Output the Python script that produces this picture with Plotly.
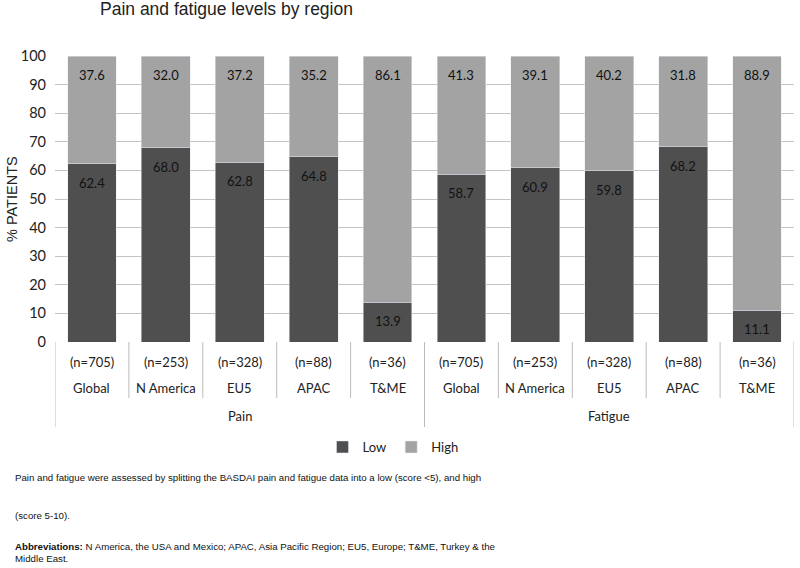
import plotly.graph_objects as go

groups = ["Pain"] * 5 + ["Fatigue"] * 5
regions = ["Global", "N America", "EU5", "APAC", "T&ME"] * 2
n_labels = ["(n=705)", "(n=253)", "(n=328)", "(n=88)", "(n=36)"] * 2
low_vals = [62.4, 68.0, 62.8, 64.8, 13.9, 58.7, 60.9, 59.8, 68.2, 11.1]
high_vals = [37.6, 32.0, 37.2, 35.2, 86.1, 41.3, 39.1, 40.2, 31.8, 88.9]
y_ticks = [0, 10, 20, 30, 40, 50, 60, 70, 80, 90, 100]

W, H = 800, 568
L, R, T, B = 55, 6, 56, 226
PW, PH = W - L - R, H - T - B

def px_x(px):
    return (px - L) / PW

def px_y(py):
    return (H - B - py) / PH

idx = list(range(len(regions)))
LOW_C = "#4f4f4f"
HIGH_C = "#a3a3a3"
LBL_FONT = dict(family="Lato, Open Sans, sans-serif", size=13, color="#111111")

fig = go.Figure()
fig.add_trace(go.Bar(x=idx, y=low_vals, name="Low", marker_color=LOW_C, hoverinfo="y+name"))
fig.add_trace(go.Bar(x=idx, y=high_vals, name="High", marker_color=HIGH_C, hoverinfo="y+name"))

annotations = []
shapes = []

# data labels (inside end of each segment)
for i in idx:
    annotations.append(dict(x=i, y=low_vals[i], xref="x", yref="y", text=f"{low_vals[i]:.1f}",
                            showarrow=False, font=LBL_FONT, yanchor="top", yshift=-9))
    annotations.append(dict(x=i, y=low_vals[i] + high_vals[i], xref="x", yref="y",
                            text=f"{high_vals[i]:.1f}", showarrow=False, font=LBL_FONT,
                            yanchor="top", yshift=-9))

TICK_FONT = dict(family="Lato, Open Sans, sans-serif", size=13, color="#222222")
for i in idx:
    annotations.append(dict(x=i, y=px_y(362), xref="x", yref="paper", text=n_labels[i],
                            showarrow=False, font=TICK_FONT, yanchor="middle"))
    annotations.append(dict(x=i, y=px_y(388), xref="x", yref="paper", text=regions[i],
                            showarrow=False, font=TICK_FONT, yanchor="middle"))

# group labels
unique_groups = []
for g in groups:
    if g not in unique_groups:
        unique_groups.append(g)
for g in unique_groups:
    members = [i for i in idx if groups[i] == g]
    annotations.append(dict(x=(members[0] + members[-1]) / 2, y=px_y(416), xref="x", yref="paper",
                            text=g, showarrow=False, font=TICK_FONT, yanchor="middle"))

# dividers
for i in range(len(idx) + 1):
    is_outer = i == 0 or i == len(idx) or groups[i - 1] != groups[i]
    shapes.append(dict(type="line", xref="x", yref="paper", x0=i - 0.5, x1=i - 0.5,
                       y0=0, y1=px_y(427 if is_outer else 398),
                       line=dict(color="#bcbcbc", width=1)))

# y axis title
annotations.append(dict(x=px_x(12), y=0.5, xref="paper", yref="paper", text="% PATIENTS",
                        textangle=-90, showarrow=False, xanchor="center", yanchor="middle",
                        font=dict(family="Liberation Sans, Arial, sans-serif", size=14.5, color="#222222")))

FOOT_FONT = dict(family="Liberation Sans, Arial, sans-serif", size=9.7, color="#111111")
foot_lines = [
    (478, "Pain and fatigue were assessed by splitting the BASDAI pain and fatigue data into a low (score <5), and high"),
    (515, "(score 5-10)."),
    (546, "<b>Abbreviations:</b> N America, the USA and Mexico; APAC, Asia Pacific Region; EU5, Europe; T&ME, Turkey & the"),
    (558, "Middle East."),
]
for py, txt in foot_lines:
    annotations.append(dict(x=px_x(13), y=px_y(py), xref="paper", yref="paper", text=txt,
                            showarrow=False, font=FOOT_FONT, xanchor="left", yanchor="middle"))

fig.update_layout(
    width=W, height=H,
    margin=dict(l=L, r=R, t=T, b=B, autoexpand=False),
    barmode="stack", bargap=0.34,
    plot_bgcolor="white", paper_bgcolor="white",
    title=dict(text="Pain and fatigue levels by region", x=100 / W, xanchor="left",
               y=1 - 9 / H, yanchor="middle", yref="container",
               font=dict(family="Liberation Sans, Arial, sans-serif", size=17.5, color="#222222")),
    xaxis=dict(range=[-0.5, len(idx) - 0.5], showticklabels=False, showgrid=False,
               zeroline=False, showline=False, ticks="", fixedrange=True),
    yaxis=dict(range=[0, 100], tickvals=y_ticks, showgrid=True, gridcolor="#c4c4c4",
               gridwidth=1, zeroline=False, showline=False, ticks="", automargin=False,
               ticklabelstandoff=8,
               tickfont=dict(family="Lato, Open Sans, sans-serif", size=14.5, color="#222222")),
    legend=dict(orientation="h", x=px_x(393), xanchor="center", y=px_y(447), yanchor="middle",
                font=dict(family="Lato, Open Sans, sans-serif", size=13, color="#222222"),
                itemwidth=30, traceorder="normal"),
    annotations=annotations,
    shapes=shapes,
)

fig.write_html("out.html", config={"displayModeBar": False},
               post_script="document.body.style.margin='0';")
